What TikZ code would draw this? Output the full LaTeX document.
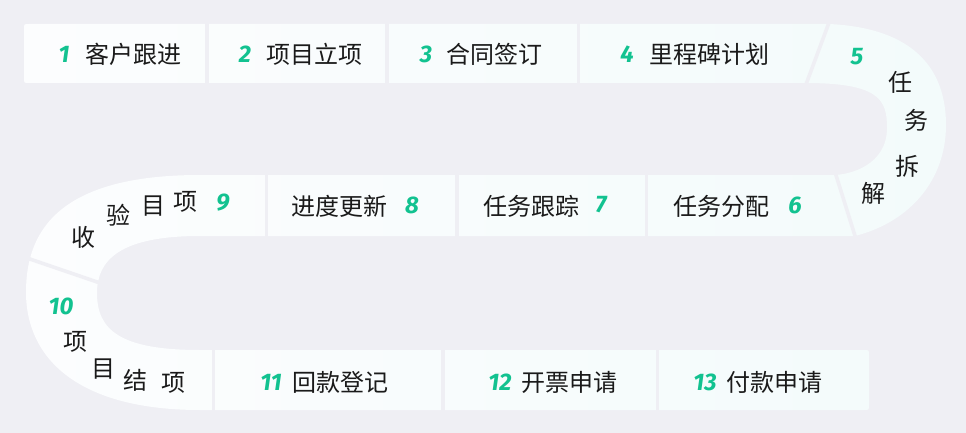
\documentclass[tikz,border=0pt]{standalone}
\usepackage{fontspec}
\newfontfamily\cjk{Noto Sans CJK SC}
\newfontfamily\numfont{Fira Sans}
\definecolor{bg}{HTML}{EFEFF4}
\definecolor{ribL}{HTML}{FCFDFE}
\definecolor{ribR}{HTML}{F3FBFB}
\definecolor{txt}{HTML}{1A1A1A}
\definecolor{grn}{HTML}{12C290}
\tikzset{
  lbl/.style={font=\cjk\fontsize{24}{24}\selectfont, text=txt, inner sep=0pt},
  num/.style={font=\numfont\bfseries\itshape\fontsize{24}{24}\selectfont, text=grn, inner sep=0pt},
  gap/.style={draw=bg, line width=3.6pt}
}
\begin{document}
\begin{tikzpicture}[x=1pt,y=-1pt]
\fill[bg] (0,0) rectangle (966,433);
\useasboundingbox (0,0) rectangle (966,433);
% ribbon
\shade[left color=ribL, right color=ribR]
  (29,24) -- (829,24)
  .. controls (915,28) and (946,70) .. (946,125)
  .. controls (946,180) and (910,222) .. (855,236)
  -- (200,236)
  .. controls (120,236) and (97,260) .. (97,293)
  .. controls (97,330) and (120,350) .. (200,350)
  -- (864,350) .. controls (869,350) and (869,350) .. (869,355)
  -- (869,405) .. controls (869,410) and (869,410) .. (864,410)
  -- (200,410)
  .. controls (80,410) and (26,360) .. (26,292)
  .. controls (26,230) and (60,175) .. (200,175)
  -- (833,175)
  .. controls (850,175) and (887,165) .. (887,128)
  .. controls (887,100) and (880,83) .. (805,83)
  -- (29,83) .. controls (24,83) and (24,83) .. (24,78)
  -- (24,29) .. controls (24,24) and (24,24) .. (29,24) -- cycle;
% gaps row 1
\draw[gap] (207,20) -- (207,87);
\draw[gap] (387,20) -- (387,87);
\draw[gap] (578.5,20) -- (578.5,87);
\draw[gap] (829.6,21) -- (805.4,86);
% gaps row 2
\draw[gap] (835,172) -- (856,239);
\draw[gap] (646.5,171) -- (646.5,240);
\draw[gap] (457,171) -- (457,240);
\draw[gap] (266.5,171) -- (266.5,240);
\draw[gap] (24,257) -- (103,284);
% gaps row 3
\draw[gap] (213.5,346) -- (213.5,414);
\draw[gap] (443,346) -- (443,414);
\draw[gap] (657.5,346) -- (657.5,414);
% row 1
\node[num] (n1) at (64,54) {1};
\node[lbl] (t1) at (133,54) {客户跟进};
\node[num] (n2) at (245,54) {2};
\node[lbl] (t2) at (314,54) {项目立项};
\node[num] (n3) at (426,54) {3};
\node[lbl] (t3) at (494.5,54) {合同签订};
\node[num] (n4) at (627,54) {4};
\node[lbl] (t4) at (709,54) {里程碑计划};
% arc 5
\node[num] (n5) at (857,57) {5};
\node[lbl] (a5a) at (900,82) {任};
\node[lbl] (a5b) at (916,120) {务};
\node[lbl] (a5c) at (907,166) {拆};
\node[lbl] (a5d) at (873,193) {解};
% row 2
\node[lbl] (t6) at (721.5,206) {任务分配};
\node[num] (n6) at (795,205) {6};
\node[lbl] (t7) at (531,206) {任务跟踪};
\node[num] (n7) at (601,205) {7};
\node[lbl] (t8) at (339.5,206) {进度更新};
\node[num] (n8) at (412,205) {8};
% arc 9
\node[num] (n9) at (223,203) {9};
\node[lbl] (a9a) at (185,202) {项};
\node[lbl] (a9b) at (153,206) {目};
\node[lbl] (a9c) at (118,215) {验};
\node[lbl] (a9d) at (83,237) {收};
% arc 10
\node[num] (n10) at (61,306) {10};
\node[lbl] (a10a) at (75,342) {项};
\node[lbl] (a10b) at (103,369) {目};
\node[lbl] (a10c) at (135,380) {结};
\node[lbl] (a10d) at (173,383) {项};
% row 3
\node[num] (n11) at (271,382.5) {11};
\node[lbl] (t11) at (340,382.5) {回款登记};
\node[num] (n12) at (500,382.5) {12};
\node[lbl] (t12) at (569,382.5) {开票申请};
\node[num] (n13) at (705,382.5) {13};
\node[lbl] (t13) at (774,382.5) {付款申请};
\end{tikzpicture}
\end{document}
